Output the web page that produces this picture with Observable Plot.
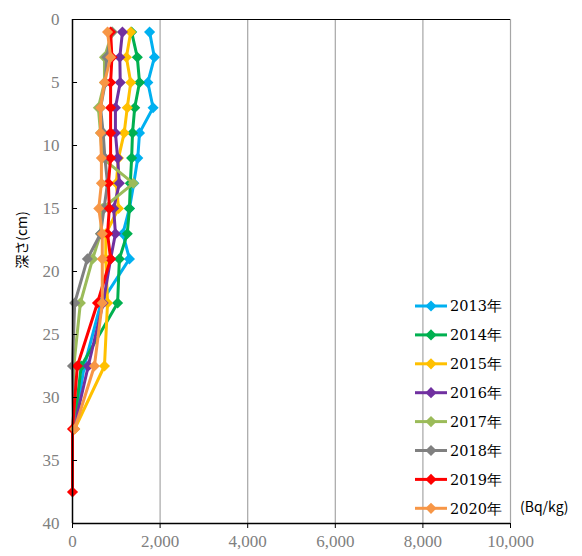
<!DOCTYPE html>
<html><head><meta charset="utf-8">
<script src="https://cdn.jsdelivr.net/npm/d3@7"></script>
<script src="https://cdn.jsdelivr.net/npm/@observablehq/plot@0.6"></script>
<style>
body{margin:0;background:#fff;}
#wrap{position:relative;width:582px;height:556px;}
#wrap svg{position:absolute;left:0;top:0;}
.ylab{position:absolute;left:11px;top:240px;transform-origin:0 0;font-family:"Noto Sans CJK JP",sans-serif;font-size:14px;color:#000;white-space:nowrap;}
.unit{position:absolute;left:520px;top:496px;font-family:"Noto Sans CJK JP",sans-serif;font-size:14px;color:#000;}
</style>
</head><body>
<div id="wrap"></div>
<script>
const depths = [1,3,5,7,9,11,13,15,17,19,22.5,27.5,32.5,37.5];
const years = ["2013年","2014年","2015年","2016年","2017年","2018年","2019年","2020年"];
const colors = ["#00B0F0","#00B050","#FFC000","#7030A0","#9BBB59","#808080","#FF0000","#F79646"];
const s2013 = [1760,1870,1720,1840,1530,1490,1400,1300,1150,1300,650,270,30];
const s2014 = [1350,1480,1530,1420,1370,1350,1320,1300,1250,1070,1030,200,30];
const s2015 = [1330,1230,1330,1250,1180,1050,1000,1050,760,760,800,730,50];
const s2016 = [1140,1080,1090,980,980,1030,1070,940,980,870,700,360,30];
const s2017 = [910,730,730,590,640,680,1390,680,640,460,180,30,30];
const s2018 = [900,780,750,640,700,740,800,720,640,340,50,0,30];
const s2019 = [870,900,870,870,870,870,820,840,800,870,570,110,0,0];
const s2020 = [800,870,730,640,640,660,660,600,680,680,680,500,50];
const xTicks = [0,2000,4000,6000,8000,10000];
const yTicks = [0,5,10,15,20,25,30,35,40];
const series = [s2013,s2014,s2015,s2016,s2017,s2018,s2019,s2020];

const data = years.map((y,i)=>series[i].map((v,j)=>({year:y,value:v,depth:depths[j]})));

const marks = [
  Plot.ruleX(xTicks.slice(1), {stroke:"#a6a6a6", strokeWidth:1.2}),
  Plot.ruleY([yTicks[0]], {stroke:"#000", strokeWidth:1.2}),
];
data.forEach((d,i)=>{
  marks.push(Plot.line(d, {x:"value", y:"depth", stroke: colors[i], strokeWidth:3}));
  marks.push(Plot.dot(d, {x:"value", y:"depth", fill: colors[i], symbol:"diamond2", r:5, stroke:"none"}));
});
marks.push(
  Plot.ruleX([xTicks[0]], {stroke:"#000", strokeWidth:1.5}),
  Plot.ruleY([yTicks[yTicks.length-1]], {stroke:"#000", strokeWidth:1.5}),
  Plot.ruleY(yTicks.slice(1,-1), {x1:0, x2:115, stroke:"#000", strokeWidth:1}),
  Plot.axisX(xTicks, {tickSize:5, tickPadding:6, tickFormat:d3.format(","), fontSize:17, fill:"#808080", stroke:"#000", label:null}),
  Plot.axisY(yTicks, {tickSize:0, tickPadding:13, fontSize:17, fill:"#808080", label:null})
);

const chart = Plot.plot({
  width:582, height:556,
  marginLeft:72, marginRight:72, marginTop:19, marginBottom:33,
  style:{fontFamily:"'Liberation Serif', serif", background:"#fff", overflow:"visible"},
  x:{domain:[0,10000]},
  y:{domain:[0,40], reverse:true},
  marks
});
const wrap = document.getElementById("wrap");
wrap.appendChild(chart);
// fix axis tick color
d3.select(chart).selectAll("[aria-label='x-axis tick'] path, [aria-label='x-axis tick']").attr("stroke","#000");

// legend
const leg = d3.select(wrap).append("svg").attr("width",582).attr("height",556)
  .style("pointer-events","none");
years.forEach((y,i)=>{
  const cy = 306 + i*28.9;
  const g = leg.append("g").attr("transform",`translate(0,${cy})`);
  g.append("line").attr("x1",415).attr("x2",447).attr("stroke",colors[i]).attr("stroke-width",3);
  g.append("path").attr("d",d3.symbol(d3.symbolDiamond2, 80)()).attr("transform","translate(431,0)").attr("fill",colors[i]);
  g.append("text").attr("x",450).attr("y",0).attr("dy","0.36em")
    .attr("font-family","'DejaVu Serif', serif").attr("font-size",14.5).text(y);
});

const yl = document.createElement("div");
yl.className="ylab"; yl.textContent="深さ(cm)";
yl.style.transform="rotate(-90deg) translate(-50%,0)";
wrap.appendChild(yl);
const u = document.createElement("div");
u.className="unit"; u.textContent="(Bq/kg)";
wrap.appendChild(u);
</script>
</body></html>
